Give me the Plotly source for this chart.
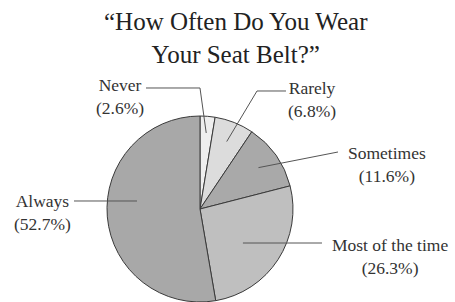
import math
import plotly.graph_objects as go

# ---- data ----
categories = ["Never", "Rarely", "Sometimes", "Most of the time", "Always"]
percents = [2.6, 6.8, 11.6, 26.3, 52.7]
colors = ["#efefef", "#dcdcdc", "#a9a9a9", "#bfbfbf", "#a8a8a8"]
title_lines = ["\u201cHow Often Do You Wear", "Your Seat Belt?\u201d"]

# ---- layout constants (pixels) ----
W, H = 455, 302
CX, CY, R = 200, 209, 93

# label placement (pixel centers) and leader-line settings
label_pos = [(120, 97), (312, 99), (387, 164), (390, 256), (42, 212)]
leader_end = [(146, 88), (286, 91), (338, 152), (322, 243), (74, 201)]
elbow = [(200, 88), (257, 91), None, None, None]
radial_frac = [0.82, 0.78, 0.77, 0.55, 0.68]
horizontal = [False, False, False, True, True]


def px(x):
    return x / W


def py(y):
    return 1 - y / H


fig = go.Figure()
fig.add_trace(go.Pie(
    labels=categories,
    values=percents,
    sort=False,
    direction="clockwise",
    rotation=0,
    textinfo="none",
    hoverinfo="skip",
    showlegend=False,
    marker=dict(colors=colors, line=dict(color="#3a3a3a", width=1)),
    domain=dict(x=[px(CX - R), px(CX + R)], y=[py(CY + R), py(CY - R)]),
))

shapes = []
annotations = []
total = sum(percents)
cum = 0.0
for i, (cat, v) in enumerate(zip(categories, percents)):
    theta = math.radians(360 * (cum + v / 2) / total)
    cum += v
    ix = CX + radial_frac[i] * R * math.sin(theta)
    iy = CY - radial_frac[i] * R * math.cos(theta)
    ex, ey = leader_end[i]
    if horizontal[i]:
        iy = ey
    pts = [(ix, iy)]
    if elbow[i] is not None:
        pts.append(elbow[i])
    pts.append((ex, ey))
    path = "M " + " L ".join(f"{px(x):.5f},{py(y):.5f}" for x, y in pts)
    shapes.append(dict(type="path", xref="paper", yref="paper", path=path,
                       line=dict(color="#555555", width=1)))
    lx, ly = label_pos[i]
    annotations.append(dict(
        x=px(lx), y=py(ly), xref="paper", yref="paper",
        text=f"{cat}<br>({v}%)", showarrow=False,
        xanchor="center", yanchor="middle", align="center",
        font=dict(family="Liberation Serif", size=17.5, color="#333333"),
    ))

annotations.append(dict(
    x=px(236), y=py(6), xref="paper", yref="paper",
    text="<br>".join(title_lines), showarrow=False,
    xanchor="center", yanchor="top", align="center",
    font=dict(family="Liberation Serif", size=25, color="#222222"),
))

fig.update_layout(
    width=W, height=H,
    margin=dict(l=0, r=0, t=0, b=0),
    paper_bgcolor="white", plot_bgcolor="white",
    shapes=shapes, annotations=annotations,
)

fig.write_html(
    "out.html",
    config={"displayModeBar": False},
    post_script="document.body.style.margin='0';document.body.style.overflow='hidden';",
)
